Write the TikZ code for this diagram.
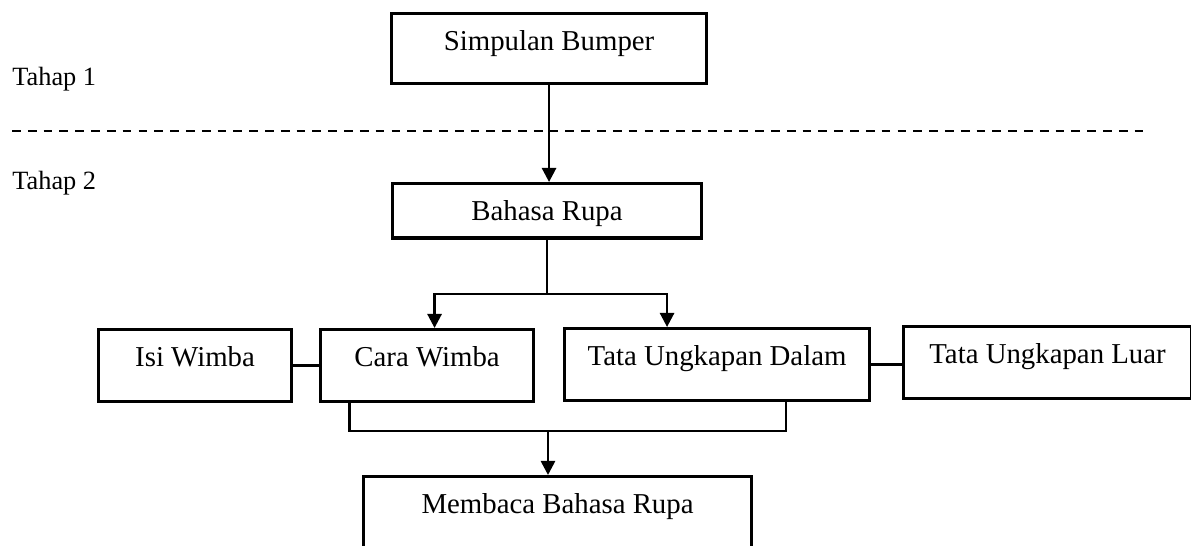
\documentclass[tikz,border=0pt]{standalone}
\usepackage{fontspec}
\setmainfont{Liberation Serif}
\usetikzlibrary{arrows.meta}
\tikzset{
	box/.style={draw, line width=1.8pt, inner sep=0pt, anchor=north west,
		font=\fontsize{16.4}{19}\selectfont, text height=21pt, align=center},
	link/.style={line width=1.5pt},
	arrowlink/.style={link, -{Triangle[length=8pt, width=8pt]}},
	stage/.style={anchor=base west, inner sep=0pt, font=\fontsize{15}{18}\selectfont}
}

\begin{document}
\begin{tikzpicture}[x=0.02cm, y=-0.02cm]

\useasboundingbox (0, 0) rectangle (1191, 546);

\node[stage] (tahapa) at (12, 86) {Tahap 1};
\node[stage] (tahapb) at (12, 190) {Tahap 2};
\draw[line width=1.1pt, dash pattern=on 5pt off 4pt] (12, 131) -- (1145, 131);

\node[box, minimum width=6.3cm, text depth=19pt] (simpulan) at (390, 12) {Simpulan Bumper};
\node[box, minimum width=6.18cm, text depth=10pt] (bahasa) at (391, 182) {Bahasa Rupa};

\node[box, minimum width=3.86cm, text depth=20pt] (isi) at (97, 328) {Isi Wimba};
\node[box, minimum width=4.26cm, text depth=20pt] (cara) at (319, 328) {Cara Wimba};
\node[box, minimum width=6.1cm, text depth=20pt] (dalam) at (563, 327) {Tata Ungkapan Dalam};
\node[box, minimum width=5.76cm, text depth=20pt] (luar) at (902, 325) {Tata Ungkapan Luar};

\node[box, minimum width=7.76cm, text depth=30pt] (membaca) at (362, 475) {Membaca Bahasa Rupa};

\coordinate (split) at (548, 294);
\coordinate (merge) at (548, 431);

\draw[arrowlink] (simpulan.south) -- (simpulan.south |- bahasa.north);

\draw[link] (bahasa.south) -- (bahasa.south |- split);
\draw[arrowlink] (split) -| ([xshift=0.15cm]cara.north);
\draw[arrowlink] (split) -| ([xshift=-1cm]dalam.north);

\draw[link] (isi.east) -- (isi.east -| cara.west);
\draw[link] (dalam.east) -- (dalam.east -| luar.west);

\draw[link] ([xshift=-1.55cm]cara.south) |- (merge) -| ([xshift=1.38cm]dalam.south);
\draw[arrowlink] (merge) -- (merge |- membaca.north);

\end{tikzpicture}
\end{document}
